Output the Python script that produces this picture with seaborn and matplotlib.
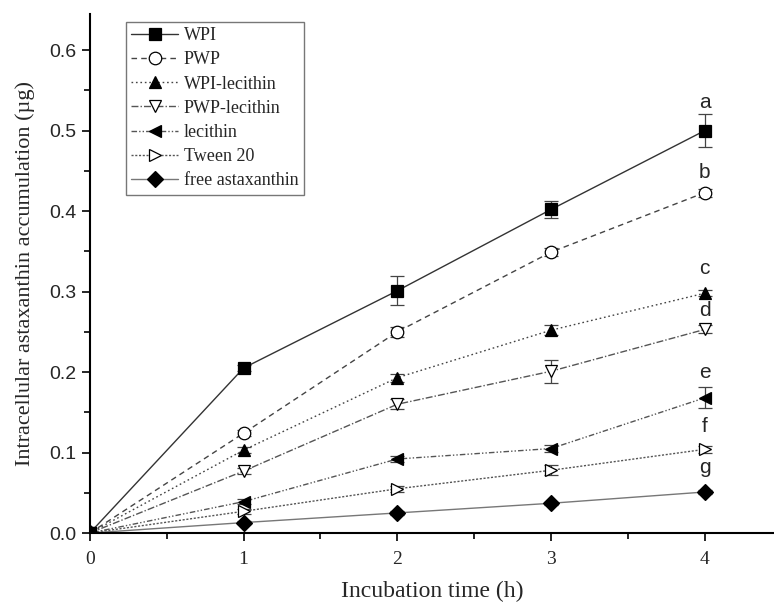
import numpy as np
import pandas as pd
import matplotlib
matplotlib.use("Agg")
import matplotlib.pyplot as plt
import seaborn as sns
from matplotlib.ticker import MultipleLocator

# Values
time_h = [0, 1, 2, 3, 4]
wpi = [0.0, 0.205, 0.301, 0.402, 0.500]
pwp = [0.0, 0.124, 0.250, 0.349, 0.423]
wpi_lec = [0.0, 0.103, 0.193, 0.252, 0.298]
pwp_lec = [0.0, 0.077, 0.160, 0.201, 0.253]
lecithin = [0.0, 0.039, 0.092, 0.105, 0.168]
tween20 = [0.0, 0.027, 0.055, 0.078, 0.104]
free_ax = [0.0, 0.013, 0.025, 0.037, 0.051]

wpi_err = [0.0, 0.004, 0.018, 0.010, 0.020]
pwp_err = [0.0, 0.004, 0.006, 0.005, 0.005]
wpi_lec_err = [0.0, 0.004, 0.005, 0.006, 0.004]
pwp_lec_err = [0.0, 0.004, 0.006, 0.014, 0.005]
lecithin_err = [0.0, 0.003, 0.004, 0.004, 0.013]
tween20_err = [0.0, 0.003, 0.004, 0.006, 0.004]
free_ax_err = [0.0, 0.002, 0.002, 0.002, 0.003]

labels = ["WPI", "PWP", "WPI-lecithin", "PWP-lecithin", "lecithin", "Tween 20", "free astaxanthin"]
letters = ["a", "b", "c", "d", "e", "f", "g"]
letter_y = [0.535, 0.448, 0.329, 0.277, 0.199, 0.132, 0.082]

series = [wpi, pwp, wpi_lec, pwp_lec, lecithin, tween20, free_ax]
errors = [wpi_err, pwp_err, wpi_lec_err, pwp_lec_err, lecithin_err, tween20_err, free_ax_err]

rows = []
for lab, vals, errs in zip(labels, series, errors):
    for t, v, e in zip(time_h, vals, errs):
        rows.append({"time": t, "value": v, "err": e, "sample": lab})
df = pd.DataFrame(rows)

# marker, face, linestyle, line colour
styles = {
    "WPI": ("s", "black", "-", "#333333"),
    "PWP": ("o", "white", (0, (4, 3)), "#444444"),
    "WPI-lecithin": ("^", "black", (0, (1.2, 2)), "#444444"),
    "PWP-lecithin": ("v", "white", (0, (5, 1.5, 1, 1.5)), "#555555"),
    "lecithin": ("<", "black", (0, (4, 1.5, 1, 1.5, 1, 1.5)), "#555555"),
    "Tween 20": (">", "white", (0, (1.5, 1.2)), "#555555"),
    "free astaxanthin": ("D", "black", "-", "#777777"),
}

sns.set_style("white")
plt.rcParams["font.family"] = ["Liberation Serif", "DejaVu Serif"]

fig = plt.figure(figsize=(7.74, 6.03), dpi=100)
ax = fig.add_axes([0.116, 0.116, 0.884, 0.861])

for lab in labels:
    sub = df[df["sample"] == lab]
    mk, fc, ls, lc = styles[lab]
    ms = 8 if mk in ("s", "D") else 9
    sns.lineplot(data=sub, x="time", y="value", ax=ax, color=lc, linestyle=ls,
                 linewidth=1.0, marker=mk, markersize=ms, markerfacecolor=fc,
                 markeredgecolor="black", markeredgewidth=0.9, label=lab)
    ax.errorbar(sub["time"], sub["value"], yerr=sub["err"], fmt="none",
                ecolor="#444444", elinewidth=0.9, capsize=5, capthick=0.9, zorder=1)

for lt, ly in zip(letters, letter_y):
    ax.text(4, ly, lt, ha="center", va="center", fontsize=15,
            family=["Liberation Sans", "DejaVu Sans"])

ax.set_xlim(0, 4.45)
ax.set_ylim(0, 0.645)
ax.xaxis.set_major_locator(MultipleLocator(1))
ax.xaxis.set_minor_locator(MultipleLocator(0.5))
ax.yaxis.set_minor_locator(MultipleLocator(0.05))
ax.tick_params(which="major", direction="out", length=6, width=1.2, color="black")
ax.tick_params(which="minor", direction="out", length=4, width=1.2, color="black")
ax.tick_params(axis="x", which="both", bottom=True, labelsize=14, pad=7)
ax.tick_params(axis="y", which="both", left=True)
ax.set_yticks(np.arange(0, 0.61, 0.1))
ax.set_yticklabels([f"{v:.1f}" for v in np.arange(0, 0.61, 0.1)],
                   family=["Liberation Sans", "DejaVu Sans"], fontsize=14)

for side in ["top", "right"]:
    ax.spines[side].set_visible(False)
for side in ["left", "bottom"]:
    ax.spines[side].set_linewidth(1.5)
    ax.spines[side].set_color("black")

ax.set_xlabel("Incubation time (h)", fontsize=17, labelpad=9)
ax.set_ylabel("Intracellular astaxanthin accumulation (µg)", fontsize=16, labelpad=10)

leg = ax.legend(loc="upper left", bbox_to_anchor=(0.053, 0.985), fontsize=13,
                frameon=True, fancybox=False, edgecolor="#555555",
                handlelength=2.6, handletextpad=0.3, borderpad=0.3,
                labelspacing=0.4, borderaxespad=0)
leg.get_frame().set_linewidth(1.0)

fig.savefig("out.png", dpi=100)
